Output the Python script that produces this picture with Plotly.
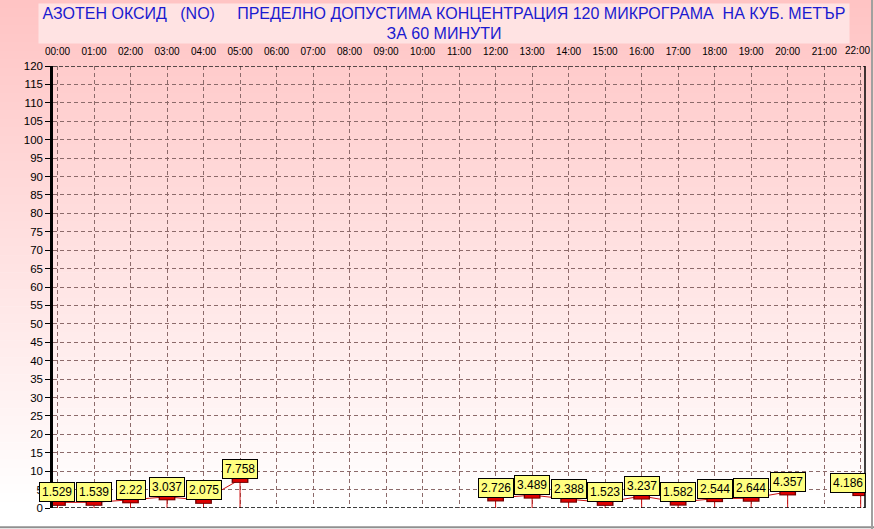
import plotly.graph_objects as go

# ---- data ----
hours = list(range(0, 23))
hour_labels = [f"{h:02d}:00" for h in hours]
no_values = [1.529, 1.539, 2.22, 3.037, 2.075, 7.758,
             None, None, None, None, None, None,
             2.726, 3.489, 2.388, 1.523, 3.237, 1.582, 2.544, 2.644, 4.357,
             None, 4.186]
y_ticks = list(range(0, 125, 5))
title_line1 = "АЗОТЕН ОКСИД   (NO)     ПРЕДЕЛНО ДОПУСТИМА КОНЦЕНТРАЦИЯ 120 МИКРОГРАМА  НА КУБ. МЕТЪР"
title_line2 = "ЗА 60 МИНУТИ"

W, H = 874, 529
L, R, T, B = 53, 865, 66, 507.7


def px_x(px):
    return (px - L) / (R - L)


def px_y(py):
    return (B - py) / (B - T)


# the last hour label is drawn as an annotation, nudged left to stay inside the page
tick_text = hour_labels[:-1] + [""]

fig = go.Figure()

fig.add_trace(go.Scatter(
    x=hours, y=no_values, mode="lines",
    line=dict(color="#cc1010", width=1), connectgaps=False,
    error_y=dict(type="data", symmetric=False,
                 array=[0 if v is not None else None for v in no_values],
                 arrayminus=no_values, thickness=1, width=0, color="#cc1010"),
    hoverinfo="skip", showlegend=False))
fig.add_trace(go.Scatter(
    x=hours, y=no_values, mode="markers",
    marker=dict(symbol="line-ew", size=12, line=dict(width=7, color="#700000")),
    hoverinfo="skip", showlegend=False))
fig.add_trace(go.Scatter(
    x=hours, y=no_values, mode="markers",
    marker=dict(symbol="line-ew", size=10, line=dict(width=5, color="#dd0000")),
    showlegend=False))

shapes = []
# gradient background strips
N = 60
top_c = (255, 196, 196)
for i in range(N):
    y0p = 510 * i / N
    y1p = 510 * (i + 1) / N
    t = i / (N - 1)
    g = int(top_c[1] + (255 - top_c[1]) * t)
    b = int(top_c[2] + (255 - top_c[2]) * t)
    shapes.append(dict(type="rect", xref="paper", yref="paper",
                       x0=px_x(0), x1=px_x(W), y0=px_y(y1p + 0.5), y1=px_y(y0p),
                       fillcolor=f"rgb(255,{g},{b})", line=dict(width=0), layer="below"))
shapes.append(dict(type="line", xref="paper", yref="y", x0=0, x1=1, y0=0, y1=0,
                   line=dict(color="black", width=1.5, dash="4px,2px")))
shapes.append(dict(type="line", xref="paper", yref="y", x0=0, x1=1, y0=120, y1=120,
                   line=dict(color="#202020", width=1.5, dash="4px,2px")))
shapes.append(dict(type="line", xref="paper", yref="paper", x0=1, x1=1, y0=0, y1=1,
                   line=dict(color="black", width=1.5)))
shapes.append(dict(type="line", xref="paper", yref="paper", x0=px_x(0), x1=px_x(W),
                   y0=px_y(527), y1=px_y(527), line=dict(color="#909090", width=2)))
shapes.append(dict(type="line", xref="paper", yref="paper", x0=px_x(872), x1=px_x(872),
                   y0=px_y(0), y1=px_y(529), line=dict(color="#a0a0a0", width=2)))

annotations = []
annotations.append(dict(
    xref="paper", yref="paper", x=px_x(444), y=px_y(23.5),
    xanchor="center", yanchor="middle", showarrow=False,
    width=808, height=37, bgcolor="#ffe3e3",
    text=title_line1 + "<br>" + title_line2,
    font=dict(family="Liberation Sans, Arial", size=16, color="#1a1ad0")))
annotations.append(dict(
    xref="x", yref="paper", x=hours[-1], y=px_y(51), xshift=-3,
    xanchor="center", yanchor="middle", showarrow=False,
    text=hour_labels[-1], font=dict(family="Liberation Sans, Arial", size=10, color="black")))
last_idx = max(i for i, v in enumerate(no_values) if v is not None)
for i, (h, v) in enumerate(zip(hours, no_values)):
    if v is None:
        continue
    at_edge = (i == last_idx and h >= 22)
    annotations.append(dict(
        x=h, y=v, xref="x", yref="y", text=f"{v:g}", showarrow=False,
        xanchor="right" if at_edge else "center", xshift=5 if at_edge else 0,
        yanchor="bottom", yshift=0,
        bgcolor="#ffff80", bordercolor="black", borderwidth=1, borderpad=2,
        font=dict(family="Liberation Sans, Arial", size=12, color="black")))

fig.update_layout(
    width=W, height=H,
    margin=dict(l=L, r=W - R, t=T, b=H - B, pad=0, autoexpand=False),
    paper_bgcolor="white", plot_bgcolor="rgba(0,0,0,0)",
    shapes=shapes, annotations=annotations,
    font=dict(family="Liberation Sans, Arial", size=11, color="black"),
    xaxis=dict(range=[-0.123, 22.118], tickvals=hours, ticktext=tick_text,
               side="top", showgrid=True, gridcolor="#8c6a6a", griddash="4px,3px",
               gridwidth=1, zeroline=False, showline=False, automargin=False,
               ticks="outside", ticklen=6, tickcolor="rgba(0,0,0,0)",
               ticklabeloverflow="allow",
               tickfont=dict(size=10, color="black"), fixedrange=True),
    yaxis=dict(range=[0, 120], tickvals=y_ticks, showgrid=True, automargin=False,
               gridcolor="#8c6a6a", griddash="4px,3px", gridwidth=1,
               zeroline=False, showline=True, linecolor="black", linewidth=2.5,
               ticks="outside", ticklen=5, tickcolor="black",
               tickfont=dict(size=11.5, color="black"), fixedrange=True),
)

fig.write_html("out.html", config={"displayModeBar": False},
               post_script="document.body.style.margin='0';document.body.style.overflow='hidden';")
